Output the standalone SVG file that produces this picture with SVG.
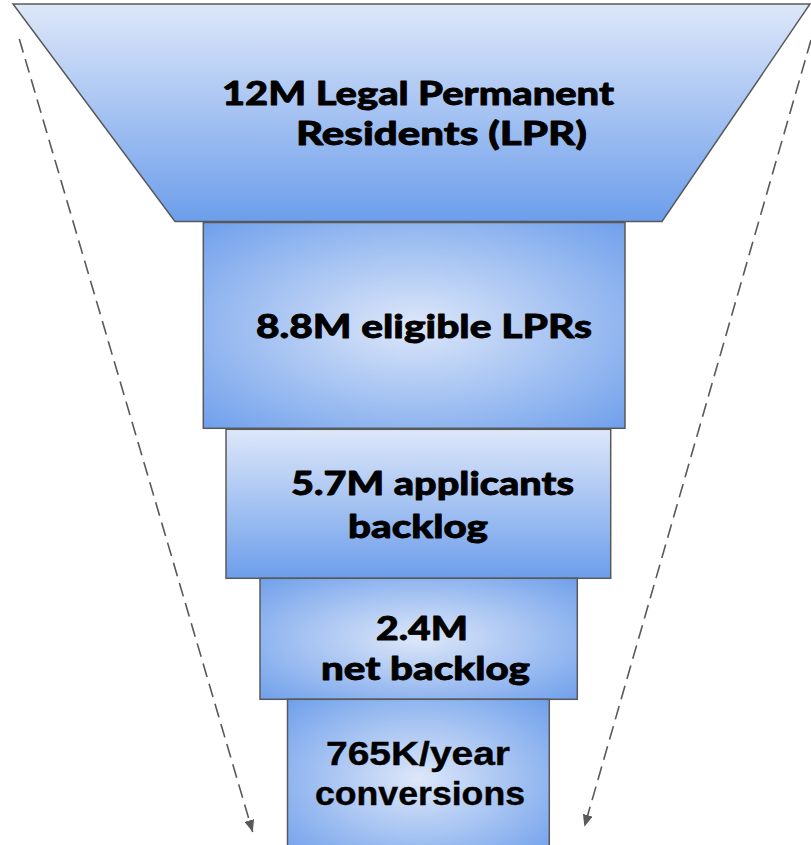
<svg xmlns="http://www.w3.org/2000/svg" width="811" height="845" viewBox="0 0 811 845">
<style>
.shape{stroke:#595959;stroke-width:1.5}
.lato{font-family:Lato,"Liberation Sans",sans-serif;font-weight:900;font-size:33px;fill:#000;stroke:#000;stroke-width:0.8;stroke-linejoin:round}
.arial{font-family:"Liberation Sans",Arial,sans-serif;font-weight:700;font-size:32.5px;fill:#000;stroke:#000;stroke-width:0.4}
.conn{stroke:#595959;stroke-width:1.6;stroke-dasharray:14 7;fill:none}
</style>
<defs>
<linearGradient id="gv" x1="0" y1="0" x2="0" y2="1">
<stop offset="0" stop-color="#dde7f9"/>
<stop offset="1" stop-color="#6d9eeb"/>
</linearGradient>
<radialGradient id="gr" cx="0.5" cy="0.5" r="0.72">
<stop offset="0" stop-color="#dde7f9"/>
<stop offset="1" stop-color="#6d9eeb"/>
</radialGradient>
<marker id="ah" viewBox="0 0 12 10" refX="12" refY="5" markerWidth="12" markerHeight="10" markerUnits="userSpaceOnUse" orient="auto">
<path d="M0,0 L12,5 L0,10 z" fill="#595959"/>
</marker>
</defs>
<g id="connectors">
<line class="conn" x1="19.3" y1="39" x2="252.7" y2="832" marker-end="url(#ah)"/>
<line class="conn" x1="811" y1="40" x2="584.4" y2="826.7" marker-end="url(#ah)"/>
</g>
<g id="n1">
<polygon class="shape" points="13,4 810,4 662,221.5 175,221.5" fill="url(#gv)"/>
<text class="lato" x="222" y="105" textLength="392" lengthAdjust="spacingAndGlyphs">12M Legal Permanent</text>
<text class="lato" x="296" y="145" textLength="291" lengthAdjust="spacingAndGlyphs">Residents (LPR)</text>
</g>
<g id="n2">
<rect class="shape" x="203.3" y="222.5" width="421.7" height="205.8" fill="url(#gr)"/>
<text class="lato" x="256" y="338.3" textLength="336" lengthAdjust="spacingAndGlyphs">8.8M eligible LPRs</text>
</g>
<g id="n3">
<rect class="shape" x="226" y="429.3" width="384.7" height="149" fill="url(#gv)"/>
<text class="lato" x="291" y="495" textLength="283" lengthAdjust="spacingAndGlyphs">5.7M applicants</text>
<text class="lato" x="348" y="538.3" textLength="140" lengthAdjust="spacingAndGlyphs">backlog</text>
</g>
<g id="n4">
<rect class="shape" x="260" y="578.3" width="317.3" height="121" fill="url(#gr)"/>
<text class="lato" x="376" y="640" textLength="92" lengthAdjust="spacingAndGlyphs">2.4M</text>
<text class="lato" x="321" y="680" textLength="209" lengthAdjust="spacingAndGlyphs">net backlog</text>
</g>
<g id="n5">
<rect class="shape" x="287.5" y="699.3" width="261.8" height="160" fill="url(#gr)"/>
<text class="arial" x="326" y="765" textLength="184" lengthAdjust="spacingAndGlyphs">765K/year</text>
<text class="arial" x="315" y="805" textLength="210" lengthAdjust="spacingAndGlyphs">conversions</text>
</g>
</svg>
